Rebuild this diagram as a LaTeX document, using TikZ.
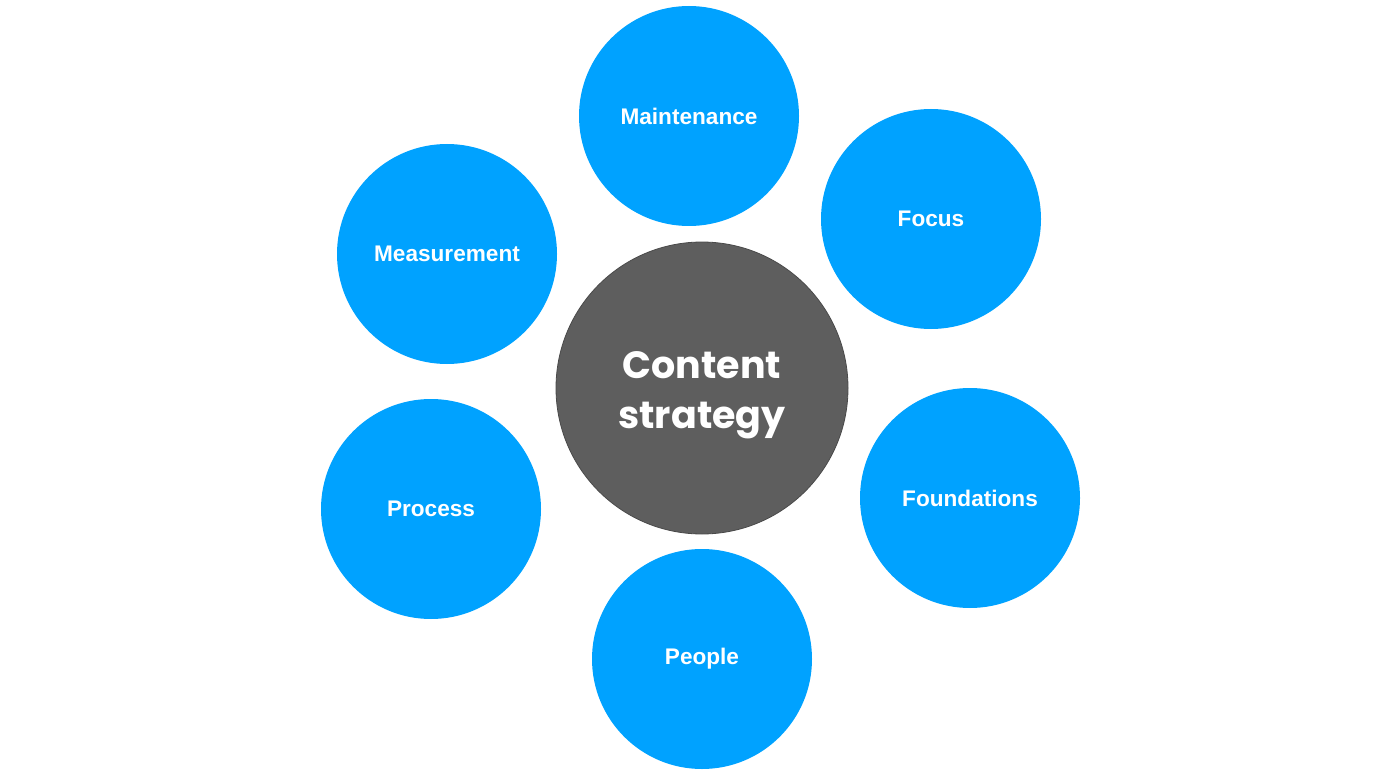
\documentclass[tikz,border=0pt]{standalone}
\usepackage{fontspec}
\setmainfont{Liberation Sans}
\newfontfamily\popfont{Poppins}
\definecolor{cblue}{HTML}{00A2FF}
\definecolor{cgray}{HTML}{5E5E5E}
\definecolor{cedge}{HTML}{4A4A4A}
\begin{document}
\begin{tikzpicture}[x=1pt,y=-1pt,
  topic/.style={circle,fill=cblue,minimum size=220pt,inner sep=0pt,text=white,
    font=\fontsize{22.6pt}{26pt}\selectfont\bfseries},
  core/.style={circle,fill=cgray,draw=cedge,line width=0.8pt,minimum size=292pt,inner sep=0pt},
  coretext/.style={text=white,align=center,font=\popfont\fontsize{38pt}{50pt}\selectfont\bfseries}]
\useasboundingbox (0,0) rectangle (1400,778);
\node[topic] (maint) at (689,116) {\raisebox{-1pt}{Maintenance}};
\node[topic] (focus) at (931,219) {\raisebox{-1pt}{Focus}};
\node[topic] (meas) at (447,254) {\raisebox{-1pt}{Measurement}};
\node[topic] (proc) at (431,509) {\raisebox{-1pt}{Process}};
\node[topic] (found) at (970,498) {\raisebox{-1pt}{Foundations}};
\node[topic] (people) at (702,659) {\raisebox{-1pt}{People}};
\node[core] (cs) at (702,388) {};
\node[coretext] (cstext) at (702,395) {Content\\strategy};
\end{tikzpicture}
\end{document}
